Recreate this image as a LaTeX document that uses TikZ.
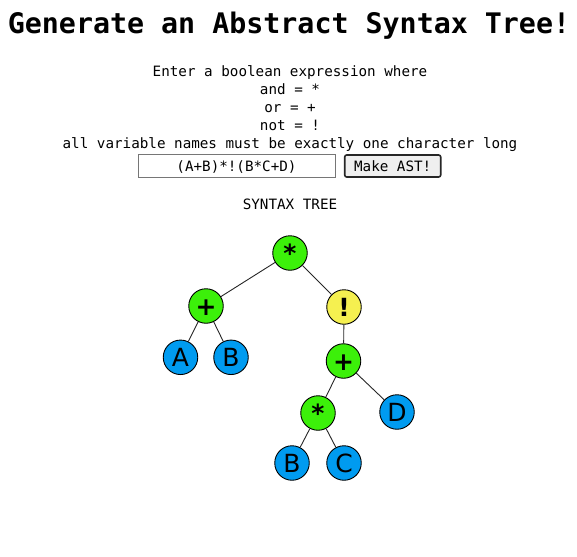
\documentclass[tikz,border=0pt]{standalone}
\usepackage{fontspec}
\setmainfont{DejaVu Sans}
\setsansfont{DejaVu Sans}
\setmonofont{DejaVu Sans Mono}
\definecolor{opgreen}{HTML}{3CF00A}
\definecolor{notyellow}{HTML}{F5F050}
\definecolor{varblue}{HTML}{009BF0}
\definecolor{boxgray}{HTML}{767676}
\definecolor{btngray}{HTML}{EFEFEF}
\tikzset{
  treenode/.style={draw,circle,line width=0.9pt,minimum size=34.5pt,inner sep=0pt,
    text height=18.5pt,text depth=0pt,font=\fontsize{25}{25}\selectfont\sffamily},
  opnode/.style={treenode,fill=opgreen,font=\fontsize{25}{25}\selectfont\sffamily\bfseries},
  notnode/.style={treenode,fill=notyellow,font=\fontsize{25}{25}\selectfont\sffamily\bfseries},
  varnode/.style={treenode,fill=varblue},
  smalltext/.style={font=\fontsize{14.25}{18}\selectfont\ttfamily}
}
\begin{document}
\begin{tikzpicture}[x=1pt,y=-1pt]
      \useasboundingbox (0,0) rectangle (577,556);
      \node (title) at (289,34) [anchor=base,inner sep=0pt,font=\fontsize{28.3}{30}\selectfont\ttfamily\bfseries] {Generate an Abstract Syntax Tree!};
      % base of a multi-line node is its last line
      \node (info) at (290,149) [anchor=base,inner sep=0pt,align=center,smalltext] {Enter a boolean expression where\\and = *\\or = +\\not = !\\all variable names must be exactly one character long};
      \node (expr) at (236.5,165.5) [draw=boxgray,line width=0.9pt,minimum width=197pt,minimum height=23pt,inner sep=0pt,text height=12.4pt,text depth=0pt,smalltext] {(A+B)*!(B*C+D)};
      \node (make) at (392.7,166) [draw=black!85,fill=btngray,line width=1.6pt,rounded corners=2pt,minimum width=96pt,minimum height=22pt,inner sep=0pt,text height=11.4pt,text depth=0pt,smalltext] {Make AST!};
      \node (heading) at (290,209) [anchor=base,inner sep=0pt,smalltext] {SYNTAX TREE};

      \begin{scope}[every node/.style={opnode}]
        \node (and_0) at (290,253) {*};
        \node (or_1) at (206,306) {+};
        \node (or_2) at (343.5,361) {+};
        \node (and_1) at (318,413) {*};
      \end{scope}
      \node[notnode] (not_1) at (344,307) {!};
      \begin{scope}[every node/.style={varnode}]
        \node (var_a) at (180.5,357.3) {A};
        \node (var_b) at (231,357.3) {B};
        \node (var_d) at (397,412) {D};
        \node (var_b2) at (292,463) {B};
        \node (var_c) at (344,463) {C};
      \end{scope}
      \begin{scope}[every edge/.style={draw=black!85,line width=0.9pt}]
        \path (and_0) edge (or_1);
        \path (and_0) edge (not_1);
        \path (or_1) edge (var_a);
        \path (or_1) edge (var_b);
        \path (not_1) edge (or_2);
        \path (or_2) edge (and_1);
        \path (or_2) edge (var_d);
        \path (and_1) edge (var_b2);
        \path (and_1) edge (var_c);
      \end{scope}
    \end{tikzpicture}
\end{document}
